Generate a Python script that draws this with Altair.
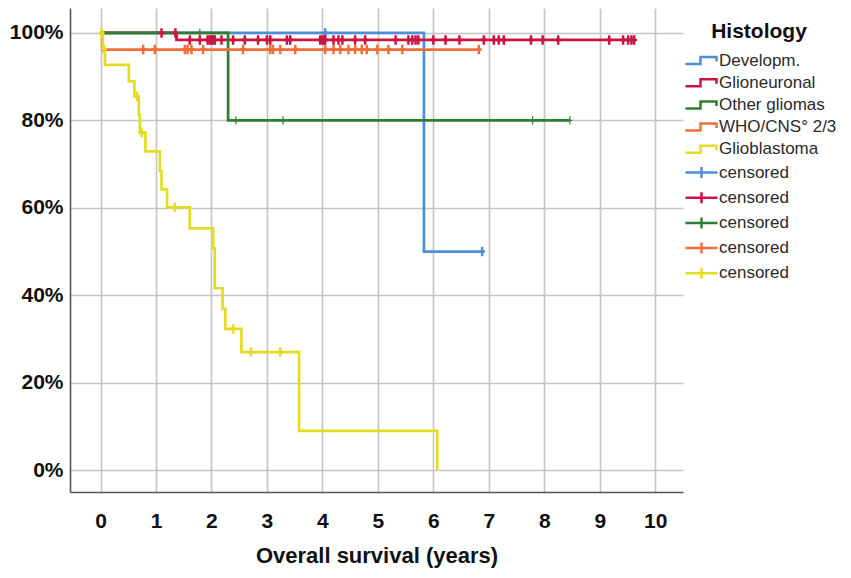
import altair as alt
import pandas as pd

# ---- Kaplan-Meier curves (time in years, survival in %) ----
dev_t = [0.0, 5.83, 6.90]
dev_s = [100.0, 50.0, 50.0]
dev_c = [4.05, 6.88]

glio_t = [0.0, 1.37, 9.62]
glio_s = [100.0, 98.4, 98.4]
glio_c = [1.10, 1.35, 1.61, 1.79, 1.93, 1.97, 2.00, 2.03, 2.06, 2.18, 2.39, 2.60,
          2.84, 3.00, 3.06, 3.36, 3.42, 3.96, 4.00, 4.03, 4.05, 4.20, 4.29, 4.36,
          4.59, 4.77, 5.32, 5.55, 5.62, 5.68, 5.73, 6.00, 6.22, 6.47, 6.91, 7.09,
          7.18, 7.27, 7.76, 7.97, 8.25, 9.17, 9.42, 9.51, 9.57, 9.62]

oth_t = [0.0, 2.30, 8.46]
oth_s = [100.0, 80.0, 80.0]
oth_c = [1.79, 2.44, 3.29, 7.79, 8.46]

who_t = [0.0, 0.03, 6.82]
who_s = [100.0, 96.2, 96.2]
who_c = [0.77, 0.98, 1.52, 1.57, 1.64, 1.85, 2.57, 3.06, 3.11, 3.24, 3.51, 4.05,
         4.20, 4.32, 4.47, 4.59, 4.71, 4.80, 4.99, 5.19, 5.44, 6.82]

gbm_t = [0.0, 0.04, 0.08, 0.51, 0.61, 0.69, 0.71, 0.81, 1.07, 1.10, 1.20, 1.61,
         2.03, 2.06, 2.20, 2.25, 2.54, 3.58, 6.07]
gbm_s = [100.0, 96.4, 92.7, 88.9, 85.5, 81.3, 77.2, 72.9, 68.4, 64.2, 60.1, 55.3,
         50.7, 41.6, 36.9, 32.3, 27.0, 9.0, 0.0]
gbm_c = [0.02, 0.06, 0.66, 0.74, 1.34, 2.39, 2.71, 3.24]

groups = ["Developm.", "Glioneuronal", "Other gliomas", "WHO/CNS° 2/3", "Glioblastoma"]
colors = ["#4a8fd8", "#cc1443", "#2d7f2f", "#f06e38", "#e3dc22"]
series = [(dev_t, dev_s, dev_c), (glio_t, glio_s, glio_c), (oth_t, oth_s, oth_c),
          (who_t, who_s, who_c), (gbm_t, gbm_s, gbm_c)]
cens_keys = ["censored1", "censored2", "censored3", "censored4", "censored5"]

x_ticks = list(range(0, 11))
y_ticks = [0, 20, 40, 60, 80, 100]

# legend symbols (custom paths)
step_path = "M-1,0.7 L2.0,0.7 L2.0,-0.7 L5.2,-0.7 L5.2,0.2"
cross_path = "M-1,0 L5.4,0 M2.2,-1.1 L2.2,1.1"
tick_path = "M-0.6,0 L0.6,0 M0,-1 L0,1"

keys = groups + cens_keys
color_scale = alt.Scale(domain=keys, range=colors + colors)
shape_scale = alt.Scale(domain=keys, range=[step_path] * 5 + [cross_path] * 5)
width_scale = alt.Scale(domain=keys, range=[2.5, 2.5, 2.5, 2.5, 2.5, 2.5, 2.5, 1.1, 2.5, 2.5])


def step_value(ts, ss, t):
    v = ss[0]
    for ti, si in zip(ts, ss):
        if ti <= t:
            v = si
    return v


FONT = "Liberation Sans, Arial, sans-serif"

x_enc = alt.X("t:Q", scale=alt.Scale(domain=[-0.55, 10.5], nice=False, zero=False),
              axis=alt.Axis(values=x_ticks, title="Overall survival (years)",
                            labelFont=FONT, labelFontSize=21, labelFontWeight="bold",
                            labelColor="#111", labelPadding=18, ticks=False,
                            titleFont=FONT, titleFontSize=22, titleFontWeight="bold",
                            titleColor="#111", titlePadding=14,
                            domainColor="#555", domainWidth=1.6,
                            gridColor="#c4c4c4", gridWidth=1.6, labelFlush=False))
y_enc = alt.Y("s:Q", scale=alt.Scale(domain=[-5, 105.7], nice=False, zero=False),
              axis=alt.Axis(values=y_ticks, title=None, labelExpr="datum.value + '%'",
                            labelFont=FONT, labelFontSize=21, labelFontWeight="bold",
                            labelColor="#111", labelPadding=7, ticks=False,
                            domainColor="#555", domainWidth=1.6,
                            gridColor="#c4c4c4", gridWidth=1.6))

legend = alt.Legend(
    title="Histology", orient="none", legendX=612, legendY=13,
    titleFont=FONT, titleFontSize=21, titleFontWeight="bold", titleColor="#111",
    titleAnchor="middle", titlePadding=10,
    labelFont=FONT, labelFontSize=17, labelColor="#2a2a2a", labelOffset=20,
    labelExpr="indexof(datum.label, 'censored') == 0 ? 'censored' : datum.label",
    symbolSize=100, symbolOpacity=1, symbolFillColor="transparent",
    rowPadding=4.2, padding=0,
)
legend_df = pd.DataFrame({"t": [0.0] * len(keys), "s": [100.0] * len(keys), "key": keys})

layers = [
    alt.Chart(legend_df).mark_point(filled=False, opacity=0).encode(
        x=x_enc, y=y_enc,
        color=alt.Color("key:N", scale=color_scale, legend=legend),
        shape=alt.Shape("key:N", scale=shape_scale, legend=legend),
        strokeWidth=alt.StrokeWidth("key:N", scale=width_scale, legend=legend))
]

for g, (ts, ss, cs) in zip(groups, series):
    df = pd.DataFrame({"t": ts, "s": ss, "key": g})
    layers.append(
        alt.Chart(df).mark_line(interpolate="step-after", strokeWidth=2.7).encode(
            x=x_enc, y=y_enc,
            color=alt.Color("key:N", scale=color_scale, legend=None))
    )

for g, ck, (ts, ss, cs) in zip(groups, cens_keys, series):
    df = pd.DataFrame({"t": cs, "s": [step_value(ts, ss, c) for c in cs], "key": ck})
    sw = 1.2 if g == "Other gliomas" else 2.5
    sz = 70 if g == "Other gliomas" else 90
    layers.append(
        alt.Chart(df).mark_point(shape=tick_path, filled=False, size=sz,
                                 strokeWidth=sw, opacity=1).encode(
            x=x_enc, y=y_enc,
            color=alt.Color("key:N", scale=color_scale, legend=None))
    )

chart = alt.layer(*layers).resolve_legend(
    color="independent", shape="independent", strokeWidth="independent"
).properties(
    width=613, height=484,
    padding={"left": 62, "top": 0, "right": 160, "bottom": 78},
    autosize=alt.AutoSizeParams(type="none"),
    background="white",
).configure_view(strokeWidth=0)

chart.save("out.html", embed_options={"renderer": "svg", "actions": False})
